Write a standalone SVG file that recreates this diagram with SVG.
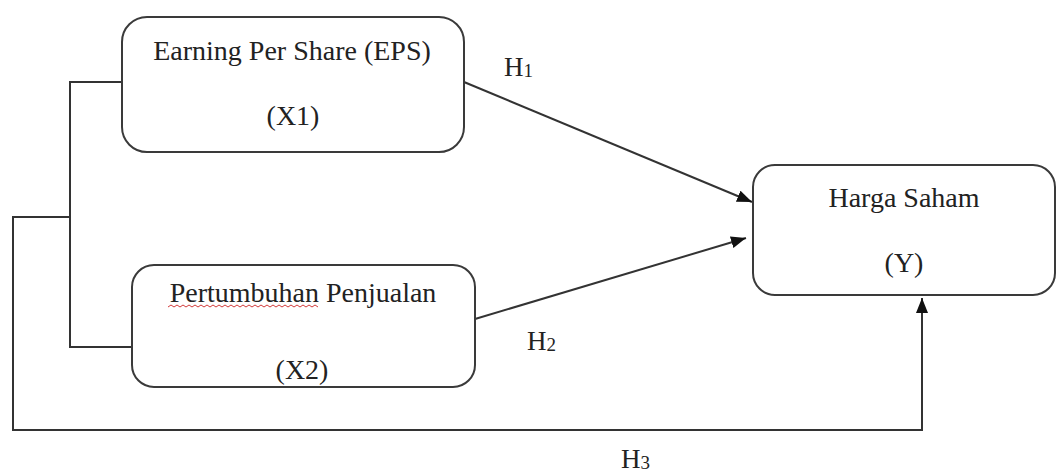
<svg xmlns="http://www.w3.org/2000/svg" width="1057" height="476" viewBox="0 0 1057 476">
  <style>
    .box { fill: #ffffff; stroke: #3a3a3a; stroke-width: 2; }
    .wire { fill: none; stroke: #333333; stroke-width: 2; }
    .lbl { font-family: "Liberation Serif", "Times New Roman", serif; font-size: 28px; fill: #222222; text-anchor: middle; }
    .h { font-family: "Liberation Serif", "Times New Roman", serif; font-size: 27px; fill: #222222; }
    .sub { font-size: 19px; }
  </style>
  <defs>
    <marker id="arr" markerUnits="userSpaceOnUse" markerWidth="16" markerHeight="12" refX="15" refY="6" orient="auto">
      <path d="M0,0 L15,6 L0,12 Z" fill="#111111"/>
    </marker>
  </defs>
  <rect width="1057" height="476" fill="#ffffff"/>

  <g id="connectors">
    <polyline class="wire" points="122,82 70,82 70,347 132,347"/>
    <polyline class="wire" points="70,217 13,217 13,430 922,430 922,298" marker-end="url(#arr)"/>
    <line class="wire" x1="464" y1="82" x2="752" y2="202" marker-end="url(#arr)"/>
    <line class="wire" x1="475" y1="319" x2="746" y2="238" marker-end="url(#arr)"/>
  </g>

  <g id="node-x1">
    <rect class="box" x="122" y="17" width="342" height="135" rx="25" ry="25"/>
    <text class="lbl" x="292" y="60">Earning Per Share (EPS)</text>
    <text class="lbl" x="293" y="125">(X1)</text>
  </g>

  <g id="node-x2">
    <rect class="box" x="132" y="265" width="343" height="122" rx="22" ry="22"/>
    <text class="lbl" x="303" y="302">Pertumbuhan Penjualan</text>
    <path d="M168,307 l3,-2 l3,2 l3,-2 l3,2 l3,-2 l3,2 l3,-2 l3,2 l3,-2 l3,2 l3,-2 l3,2 l3,-2 l3,2 l3,-2 l3,2 l3,-2 l3,2 l3,-2 l3,2 l3,-2 l3,2 l3,-2 l3,2 l3,-2 l3,2 l3,-2 l3,2 l3,-2 l3,2 l3,-2 l3,2 l3,-2 l3,2 l3,-2 l3,2 l3,-2 l3,2 l3,-2 l3,2 l3,-2 l3,2 l3,-2 l3,2 l3,-2 l3,2 l3,-2 l3,2 l3,-2 l3,2" fill="none" stroke="#d23a3a" stroke-width="1"/>
    <text class="lbl" x="302" y="379">(X2)</text>
  </g>

  <g id="node-y">
    <rect class="box" x="753" y="165" width="302" height="130" rx="22" ry="22"/>
    <text class="lbl" x="904" y="207">Harga Saham</text>
    <text class="lbl" x="904" y="272">(Y)</text>
  </g>

  <g id="labels">
    <text class="h" x="504" y="76">H<tspan class="sub" dy="1">1</tspan></text>
    <text class="h" x="527" y="350">H<tspan class="sub" dy="1">2</tspan></text>
    <text class="h" x="621" y="468">H<tspan class="sub" dy="1">3</tspan></text>
  </g>
</svg>
